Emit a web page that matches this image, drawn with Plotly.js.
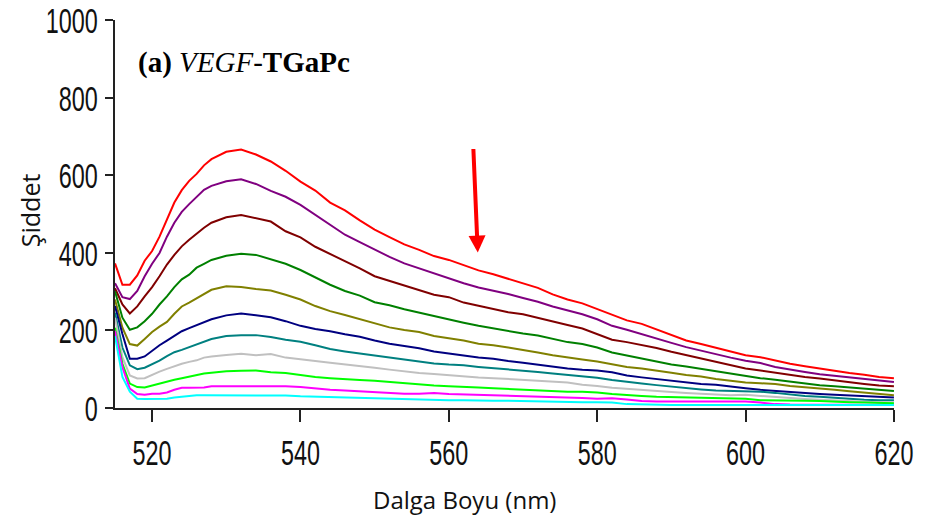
<!DOCTYPE html>
<html>
<head>
<meta charset="utf-8">
<script src="https://cdn.plot.ly/plotly-3.0.1.min.js"></script>
<style>
  html, body { margin: 0; padding: 0; background: #fff; }
  #chart { width: 926px; height: 526px; }
</style>
</head>
<body>
<div id="chart"></div>
<script>
// Emission wavelengths (nm)
const wavelength = [515,516,517,518,519,520,521,522,523,524,525,526,527,528,
  530,532,534,536,538,540,542,544,546,548,550,552,554,556,558,560,562,564,566,568,570,
  572,574,576,578,580,582,584,586,588,590,592,594,596,598,600,602,604,606,608,610,612,614,616,618,620];

// Fluorescence intensity of each titration step (highest to lowest)
const step01 = [373,318,318,342,380,405,442,488,530,562,586,604,626,642,
  661,667,654,636,612,584,561,530,510,484,460,441,422,408,392,382,368,355,345,334,322,
  310,293,280,270,256,240,226,217,203,188,174,165,155,145,136,131,122,114,108,102,96,90,86,80,77];
const step02 = [322,286,281,302,340,372,400,442,478,506,526,545,563,573,
  585,590,578,560,545,524,498,472,447,428,408,390,373,360,346,333,322,311,303,294,284,
  274,262,251,242,229,212,202,190,179,168,157,148,138,130,122,116,106,99,93,87,83,78,74,71,67];
const step03 = [309,267,244,262,288,312,340,370,395,417,434,450,465,478,
  492,498,490,481,456,440,416,398,380,360,340,328,316,303,292,286,272,264,255,247,242,
  232,224,214,205,190,176,170,163,155,145,136,127,118,110,102,97,91,85,80,76,71,66,62,58,56];
const step04 = [301,233,202,208,224,243,267,288,312,332,344,362,372,382,
  393,398,395,384,372,356,336,318,302,290,273,265,255,246,238,229,220,212,205,198,192,
  187,178,170,165,156,143,135,127,119,112,107,101,94,88,82,77,73,68,63,59,56,53,51,48,44];
const step05 = [280,207,165,161,178,196,210,222,243,262,272,283,296,305,
  314,312,307,303,292,280,263,250,240,230,218,208,201,196,186,180,174,166,162,156,150,
  143,136,130,125,120,113,106,102,97,91,85,81,75,70,66,64,62,57,54,50,47,43,40,37,33];
const step06 = [263,191,127,127,133,148,162,174,186,198,206,214,222,229,
  239,244,239,234,224,212,204,198,190,184,174,166,160,154,146,141,136,130,127,121,117,
  112,107,102,99,97,92,84,79,75,70,66,62,60,55,51,47,44,41,39,36,34,32,31,29,27];
const step07 = [246,156,110,100,104,112,122,134,144,150,157,165,172,178,
  186,188,188,183,176,171,162,152,146,141,136,131,126,121,115,112,110,106,103,100,97,
  93,89,85,81,78,72,67,63,59,55,52,48,45,44,44,42,39,35,31,29,26,23,21,20,20];
const step08 = [233,131,84,76,77,86,94,101,108,114,119,123,130,133,
  137,140,136,139,130,125,121,117,113,109,104,99,95,90,88,85,81,79,77,75,73,
  71,68,66,60,57,52,49,46,44,41,39,37,34,33,34,31,29,26,23,21,19,17,16,15,14];
const step09 = [207,114,63,54,53,58,64,68,73,77,81,85,89,91,
  95,96,97,92,90,85,80,77,74,72,70,67,63,60,58,56,55,53,51,49,47,
  46,44,42,42,40,36,33,31,29,28,27,27,26,25,24,20,20,19,19,18,16,15,14,13,12];
const step10 = [199,105,50,36,34,37,37,40,47,52,52,52,53,56,
  56,56,56,56,56,54,50,47,45,43,42,40,37,37,39,36,35,34,32,31,30,
  29,28,27,26,24,25,22,18,17,17,16,16,16,16,17,14,10,9,9,9,8,8,8,8,8];
const step11 = [186,80,42,24,23,23,23,24,27,29,31,33,33,33,
  33,33,33,33,32,30,29,28,27,25,24,23,22,21,20,20,20,19,19,19,18,
  18,17,15,15,15,14,10,9,9,8,8,8,8,8,8,8,8,8,8,8,8,8,8,8,8];

const xTickValues = [520, 540, 560, 580, 600, 620];
const yTickValues = [0, 200, 400, 600, 800, 1000];

const seriesList = [step01, step02, step03, step04, step05, step06,
                    step07, step08, step09, step10, step11];
const lineColors = ['#ff0000', '#800080', '#800000', '#008000', '#808000', '#000080',
                    '#008080', '#c0c0c0', '#00ff00', '#ff00ff', '#00ffff'];

const traces = seriesList.map((vals, i) => ({
  type: 'scatter',
  mode: 'lines',
  x: wavelength,
  y: vals,
  line: { color: lineColors[i], width: 2 },
  hoverinfo: 'x+y'
}));

const tickFont = { family: 'Liberation Sans, Arial, sans-serif', size: 36, color: '#111' };
const titleFont = { family: 'Open Sans, Noto Sans, sans-serif', size: 24, color: '#111' };

const layout = {
  width: 926,
  height: 526,
  margin: { l: 115, r: 32, t: 20, b: 118 },
  paper_bgcolor: '#ffffff',
  plot_bgcolor: '#ffffff',
  showlegend: false,
  xaxis: {
    range: [515, 620.01],
    tickvals: xTickValues,
    showgrid: false,
    zeroline: false,
    showline: true,
    linecolor: '#222',
    linewidth: 2,
    ticks: 'outside',
    ticklen: 12,
    tickwidth: 2,
    tickcolor: '#222',
    ticklabeloverflow: 'allow',
    tickfont: tickFont
  },
  yaxis: {
    range: [0, 1001],
    tickvals: yTickValues,
    showgrid: false,
    zeroline: false,
    showline: true,
    linecolor: '#222',
    linewidth: 2,
    ticks: 'outside',
    ticklen: 8,
    tickwidth: 2,
    tickcolor: '#222',
    ticklabeloverflow: 'allow',
    tickfont: tickFont
  },
  annotations: [
    {
      text: 'Dalga Boyu (nm)',
      xref: 'paper', yref: 'paper',
      x: 0.449, y: -0.237,
      xanchor: 'center', yanchor: 'middle',
      showarrow: false,
      font: titleFont
    },
    {
      text: 'Şiddet',
      xref: 'paper', yref: 'paper',
      x: -0.109, y: 0.51,
      xanchor: 'center', yanchor: 'middle',
      textangle: -90,
      showarrow: false,
      font: { family: titleFont.family, size: 25, color: titleFont.color }
    },
    {
      text: '<b>(a)</b> <i>VEGF-</i><b>TGaPc</b>',
      xref: 'paper', yref: 'paper',
      x: 0.027, y: 0.89,
      xanchor: 'left', yanchor: 'middle',
      showarrow: false,
      font: { family: 'Liberation Serif, Times New Roman, serif', size: 29, color: '#000' }
    },
    {
      // downward arrow marking the decreasing emission
      x: 563.9, y: 401,
      ax: 563.3, ay: 672,
      xref: 'x', yref: 'y', axref: 'x', ayref: 'y',
      text: '',
      showarrow: true,
      arrowhead: 2,
      arrowsize: 0.85,
      arrowwidth: 4,
      arrowcolor: '#ff0000'
    }
  ]
};

// Narrow the tick numerals horizontally so they read as a tall condensed face.
function condenseTickLabels(gd, sx) {
  gd.querySelectorAll('.xaxislayer-above text, .yaxislayer-above text').forEach(t => {
    const bb = t.getBBox();
    const isY = !!t.closest('.yaxislayer-above');
    const ax = isY ? bb.x + bb.width : bb.x + bb.width / 2;
    const ay = bb.y + bb.height / 2;
    const prev = t.getAttribute('transform') || '';
    t.setAttribute('transform',
      prev + ' translate(' + ax + ',' + ay + ') scale(' + sx + ',1) translate(' + (-ax) + ',' + (-ay) + ')');
  });
}

Plotly.newPlot('chart', traces, layout, { displayModeBar: false, staticPlot: true })
  .then(gd => condenseTickLabels(gd, 0.65));
</script>
</body>
</html>
